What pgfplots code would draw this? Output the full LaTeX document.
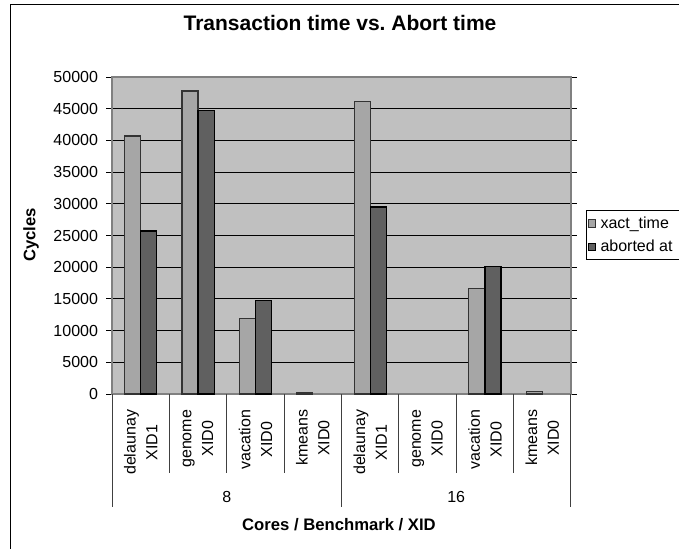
\documentclass[border=0pt]{standalone}
\usepackage{pgfplots}
\pgfplotsset{compat=1.18}
\usepackage{pgfplotstable}
\usepackage{fontspec}
\setmainfont{Liberation Sans}
\definecolor{plotbg}{HTML}{C0C0C0}
\definecolor{xactc}{HTML}{A6A6A6}
\definecolor{abortc}{HTML}{606060}
\definecolor{framegray}{HTML}{808080}
\definecolor{edgec}{HTML}{333333}

\pgfplotstableread{
x y
0 40700
1 47800
2 11900
3 300
4 46100
5 0
6 16700
7 350
}\xacttable
\pgfplotstableread{
x y
0 25700
1 44700
2 14800
3 0
4 29500
5 0
6 20100
7 0
}\aborttable

\begin{document}
\begin{tikzpicture}
\begin{scope}[x=0.75pt,y=-0.75pt]
\useasboundingbox (0,0) rectangle (679,549);
\fill[white] (0,0) rectangle (679,549);
\draw[black, line width=0.9pt, overlay] (10.7,552) -- (10.7,4.5) -- (682,4.5);
\node[font=\fontsize{15.75}{18}\selectfont\bfseries] at (340,23) {Transaction time vs.\ Abort time};
\node[font=\fontsize{12.5}{15}\selectfont\bfseries, rotate=90] at (31,235) {Cycles};
\node[font=\fontsize{12.5}{15}\selectfont\bfseries] at (339,525) {Cores / Benchmark / XID};
\end{scope}
\begin{axis}[
  at={(84pt,-295.5pt)}, anchor=south west,
  scale only axis, width=344.25pt, height=237.75pt,
  ymin=0, ymax=50000, xmin=-0.5, xmax=7.5,
  ybar, bar width=0.28,
  clip=false,
  unbounded coords=discard,
  axis background/.style={fill=plotbg},
  axis line style={draw=framegray, line width=0.9pt},
  ymajorgrids, major grid style={black, line width=0.75pt},
  tick align=outside, major tick length=4.5pt,
  ytick={0,5000,...,50000},
  ytick style={black, line width=0.75pt},
  xtick={0,...,7},
  xtick style={draw=none},
  xticklabels={{delaunay\\XID1},{genome\\XID0},{vacation\\XID0},{kmeans\\XID0},{delaunay\\XID1},{genome\\XID0},{vacation\\XID0},{kmeans\\XID0}},
  xticklabel style={rotate=90, anchor=east, align=center, font=\fontsize{12}{16.3}\selectfont, inner sep=0pt, xshift=-2pt},
  xticklabel shift=5.25pt,
  scaled y ticks=false,
  yticklabel style={font=\fontsize{12}{14}\selectfont, /pgf/number format/1000 sep={}, /pgf/number format/assume math mode=true},
  yticklabel shift=2.5pt,
  legend cell align=left,
  legend style={at={(1.032,0.5804)}, anchor=north west, draw=black, line width=0.75pt, fill=white,
    font=\fontsize{12}{14}\selectfont, inner sep=1pt, row sep=0pt, overlay,
    nodes={inner sep=3.6pt}},
  legend image code/.code={\draw[#1, line width=0.75pt] (0pt,-2.7pt) rectangle (5.4pt,2.7pt);},
]
\addplot[fill=xactc, draw=edgec, line width=0.9pt, bar shift=-0.14, y filter/.expression={y==0 ? nan : y}] table[x=x,y=y] {\xacttable};
\addplot[fill=abortc, draw=black, line width=0.9pt, bar shift=0.14, y filter/.expression={y==0 ? nan : y}] table[x=x,y=y] {\aborttable};
\legend{xact\_time, aborted at\rule{12pt}{0pt}}
\pgfplotsinvokeforeach{0.5,1.5,2.5,4.5,5.5,6.5}{
  \draw[black!75, line width=0.75pt] (axis cs:#1,0) -- ++(0pt,-59.25pt);
}
\pgfplotsinvokeforeach{-0.5,3.5,7.5}{
  \draw[black!75, line width=0.75pt] (axis cs:#1,0) -- ++(0pt,-84.75pt);
}
\node[font=\fontsize{12}{14}\selectfont] at (axis cs:1.5,0) [yshift=-77.25pt] {8};
\node[font=\fontsize{12}{14}\selectfont] at (axis cs:5.5,0) [yshift=-77.25pt] {16};
\end{axis}
\end{tikzpicture}
\end{document}
